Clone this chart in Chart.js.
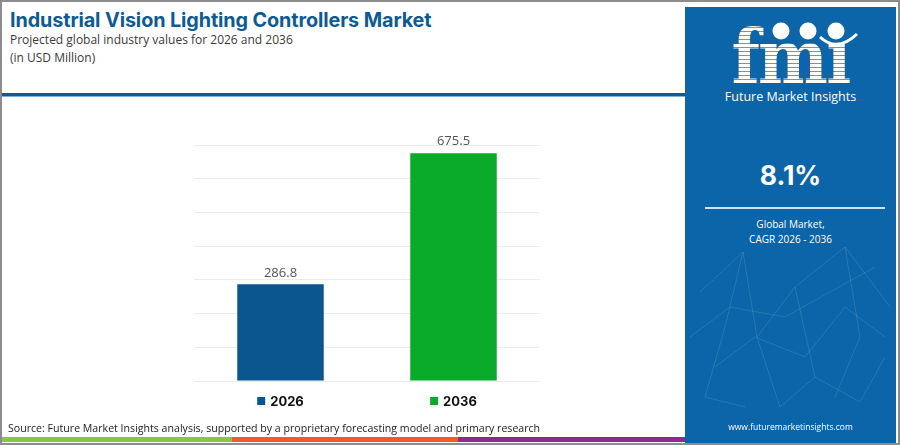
<!DOCTYPE html>
<html>
<head>
<meta charset="utf-8">
<script src="https://cdn.jsdelivr.net/npm/chart.js@4.4.1/dist/chart.umd.min.js"></script>
<style>
  html, body { margin: 0; padding: 0; background: #fff; }
  #frame {
    position: relative; width: 900px; height: 445px; overflow: hidden;
    box-sizing: border-box; border: 2px solid #8c8c8c; background: #fff;
    font-family: "Open Sans", "DejaVu Sans", sans-serif;
  }
  .title { position: absolute; left: 8px; top: 6px; font-family: Inter, sans-serif; font-weight: 700; font-size: 19.8px; color: #0d5a94; letter-spacing: -0.1px; }
  .sub { position: absolute; left: 8px; font-size: 12px; color: #3a3a3a; }
  #rule { position: absolute; left: 0; top: 91px; width: 683px; height: 3px; background: #0d5a94; border-bottom: 1px solid #7fb0d8; }
  #panel { position: absolute; left: 683px; top: 5px; width: 211px; height: 436px; background: #0b65a8; color: #fff; text-align: center; }
  #logo { position: absolute; left: 0; top: 13px; width: 211px; font-family: "DejaVu Serif", serif; font-weight: 700; font-size: 75px; line-height: 1;
    transform: scaleX(0.88);
    background: repeating-linear-gradient(#fff 0 3px, rgba(255,255,255,0.35) 3px 4px); -webkit-background-clip: text; background-clip: text; color: transparent; letter-spacing: -2px; }
  #brand { position: absolute; left: 0; top: 81px; width: 211px; font-size: 12.5px; }
  #cagr { position: absolute; left: 0; top: 152px; width: 211px; font-family: Inter, sans-serif; font-weight: 700; font-size: 26.5px; }
  #cagrLine { position: absolute; left: 20px; top: 200px; width: 180px; height: 2px; background: #cfe2f2; }
  #cagrTxt { position: absolute; left: 0; top: 210px; width: 211px; font-size: 10px; line-height: 15px; }
  #web { position: absolute; left: 0; top: 414px; width: 211px; font-size: 8.5px; }
  #strip { position: absolute; left: 0; top: 435px; height: 5px; width: 683px; display: flex; }
  #strip div { height: 100%; }
  #source { position: absolute; left: 6px; top: 419px; font-size: 10.6px; color: #222; }
  #wrap { position: absolute; left: 180px; top: 100px; width: 380px; height: 320px; }
</style>
</head>
<body>
<div id="frame">
  <div class="title">Industrial Vision Lighting Controllers Market</div>
  <div class="sub" style="top:29px">Projected global industry values for 2026 and 2036</div>
  <div class="sub" style="top:47px">(in USD Million)</div>
  <div id="rule"></div>

  <div id="wrap"><canvas id="chart"></canvas></div>

  <div id="source">Source: Future Market Insights analysis, supported by a proprietary forecasting model and primary research</div>
  <div id="strip">
    <div style="width:230px;background:#8cc63f"></div>
    <div style="width:226px;background:#f15a24"></div>
    <div style="width:227px;background:#92278f"></div>
  </div>

  <div id="panel">
    <svg width="211" height="436" style="position:absolute;left:0;top:0" stroke="rgba(255,255,255,0.12)" stroke-width="1" fill="none">
      <polyline points="15,285 58,245 72,330 110,280 160,240 205,300"/>
      <polyline points="30,360 70,330 120,350 160,300 200,330"/>
      <polyline points="58,245 40,320 20,390 60,400"/>
      <polyline points="110,280 130,370 175,395 200,350"/>
      <polyline points="160,240 175,330 150,390"/>
      <polyline points="72,330 95,400 130,370"/>
      <polyline points="5,330 45,300 100,310 190,260"/>
    </svg>
    <div id="logo">fmı</div>
    <svg width="211" height="60" style="position:absolute;left:0;top:0" fill="#fff">
      <circle cx="96" cy="24" r="8.5"/>
      <circle cx="123" cy="24" r="8.5"/>
      <circle cx="151" cy="24" r="8.5"/>
      <path d="M135 30 Q152 46 172 27" stroke="#fff" stroke-width="3" fill="none"/>
    </svg>
    <div id="brand">Future Market Insights</div>
    <div id="cagr">8.1%</div>
    <div id="cagrLine"></div>
    <div id="cagrTxt">Global Market,<br>CAGR 2026 - 2036</div>
    <div id="web">www.futuremarketinsights.com</div>
  </div>
</div>

<script>
// ---- data ----
const years = ['2026', '2036'];
const marketValues = [286.8, 675.5];
const barColors = ['#0b568f', '#0aaa2a'];
const yTicks = [0, 100, 200, 300, 400, 500, 600, 700];

// value labels above bars + coloured-square category labels below the plot
const barLabels = {
  id: 'barLabels',
  afterDatasetsDraw(chart) {
    const { ctx, scales: { x } } = chart;
    const meta = chart.getDatasetMeta(0);
    ctx.save();
    ctx.textAlign = 'center';
    meta.data.forEach((bar, i) => {
      ctx.fillStyle = '#555';
      ctx.font = '13px "Open Sans", sans-serif';
      ctx.textBaseline = 'bottom';
      ctx.fillText(marketValues[i].toFixed(1), bar.x, bar.y - 5);

      const cx = x.getPixelForValue(i);
      const y = chart.chartArea.bottom + 20;
      ctx.font = 'bold 13px Inter, sans-serif';
      const w = ctx.measureText(years[i]).width;
      const sq = 8, gap = 5;
      const left = cx - (w + sq + gap) / 2;
      ctx.fillStyle = barColors[i];
      ctx.fillRect(left, y - sq / 2, sq, sq);
      ctx.fillStyle = '#111';
      ctx.textAlign = 'left';
      ctx.textBaseline = 'middle';
      ctx.fillText(years[i], left + sq + gap, y + 1);
      ctx.textAlign = 'center';
    });
    ctx.restore();
  }
};

new Chart(document.getElementById('chart'), {
  type: 'bar',
  data: {
    labels: years,
    datasets: [{
      data: marketValues,
      backgroundColor: barColors,
      borderWidth: 0,
      barPercentage: 0.5,
      categoryPercentage: 1,
    }]
  },
  options: {
    responsive: true,
    maintainAspectRatio: false,
    animation: false,
    layout: { padding: { left: 12, right: 22, top: 43, bottom: 41 } },
    plugins: { legend: { display: false }, tooltip: { enabled: false } },
    scales: {
      x: { display: false },
      y: {
        min: yTicks[0],
        max: yTicks[yTicks.length - 1],
        afterBuildTicks: axis => { axis.ticks = yTicks.map(v => ({ value: v })); },
        ticks: { display: false },
        border: { display: false },
        grid: { color: '#ececec', drawTicks: false, lineWidth: 1 }
      }
    }
  },
  plugins: [barLabels]
});
</script>
</body>
</html>
